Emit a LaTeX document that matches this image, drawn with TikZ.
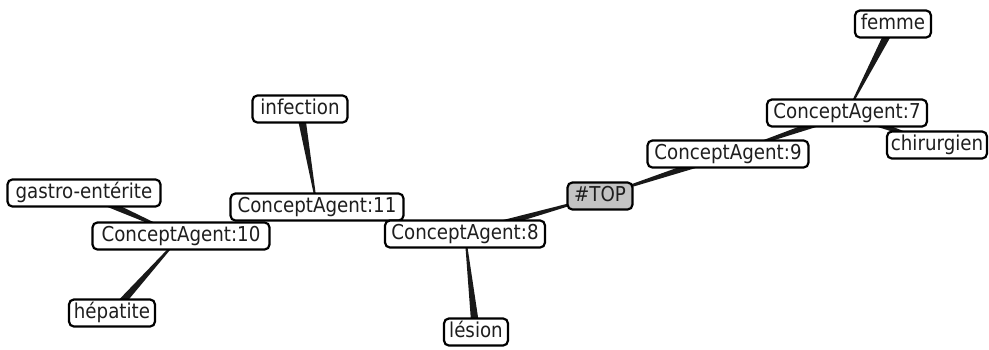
\documentclass[tikz,border=0pt]{standalone}
\usepackage{fontspec}
\setmainfont[FakeStretch=0.89]{DejaVu Sans}
\usetikzlibrary{calc,backgrounds}
\definecolor{topgray}{RGB}{195,195,195}
\definecolor{txt}{RGB}{30,30,30}
\tikzset{
  concept/.style={draw=black, line width=2.2pt, rounded corners=5pt, fill=white,
    font=\fontsize{20.5}{23}\selectfont, text=txt, text height=14.5pt, text depth=4pt,
    inner xsep=3pt, inner ysep=4.3pt, align=center},
  topnode/.style={concept, fill=topgray},
  edgefill/.style={fill=black!90}
}
\newcommand\taper[3][4.2pt]{%
  \fill[edgefill] ($(#2.center)!0.5pt!90:(#3.center)$)
    -- ($(#3.center)!#1!-90:(#2.center)$)
    -- ($(#3.center)!#1!90:(#2.center)$)
    -- ($(#2.center)!0.5pt!-90:(#3.center)$) -- cycle;}
\begin{document}
\begin{tikzpicture}[x=1pt,y=-1pt]
\useasboundingbox (0,0) rectangle (989,349);
\node[concept, minimum width=76pt] (femme) at (893,24) {femme};
\node[concept, minimum width=160pt] (ca7) at (847,113) {ConceptAgent:7};
\node[concept, minimum width=100pt] (chir) at (937,145) {chirurgien};
\node[concept, minimum width=161pt] (ca9) at (728,154) {ConceptAgent:9};
\node[topnode, minimum width=65pt] (top) at (600,196) {\#TOP};
\node[concept, minimum width=95pt] (infect) at (300,109) {infection};
\node[concept, minimum width=173pt] (ca11) at (317,207) {ConceptAgent:11};
\node[concept, minimum width=177pt] (ca10) at (181,236) {ConceptAgent:10};
\node[concept, minimum width=160pt] (ca8) at (465,234) {ConceptAgent:8};
\node[concept, minimum width=153pt] (gastro) at (84,193) {gastro-entérite};
\node[concept, minimum width=86pt] (hepat) at (112,313) {hépatite};
\node[concept, minimum width=64pt] (lesion) at (476,332) {lésion};
\begin{pgfonlayer}{background}
\taper{top}{ca8}
\taper{top}{ca9}
\taper{ca9}{ca7}
\taper{ca7}{femme}
\taper{chir}{ca7}
\taper{ca8}{lesion}
\taper{ca11}{infect}
\taper{ca10}{hepat}
\taper{ca10}{gastro}
\end{pgfonlayer}
\end{tikzpicture}
\end{document}
